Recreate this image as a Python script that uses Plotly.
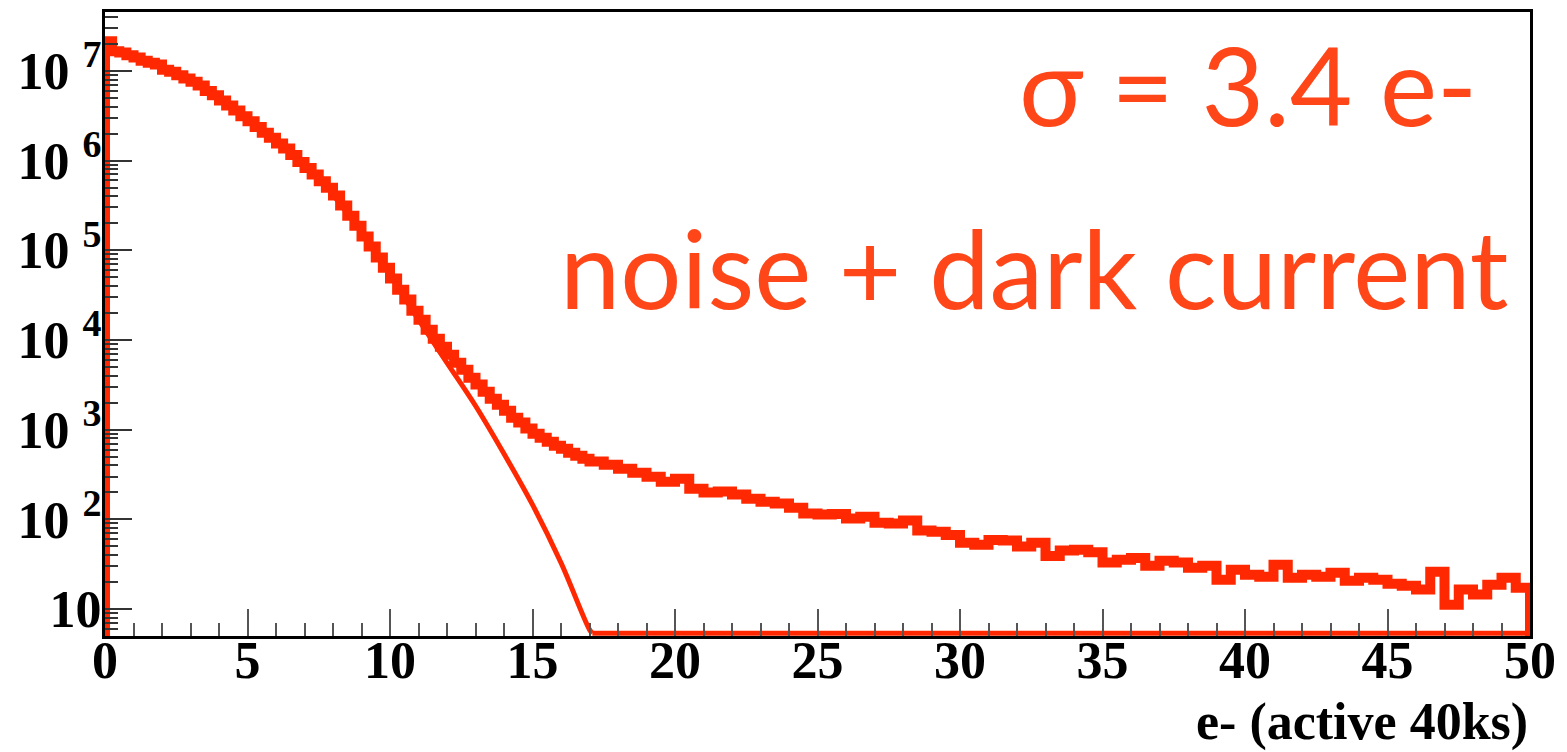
import numpy as np
import plotly.graph_objects as go

# ---------------- data ----------------
# histogram: 0.25-wide bins from 0 to 17, then 0.5-wide bins from 17 to 50
fine_edges = list(np.arange(0.0, 17.0, 0.25))
coarse_edges = list(np.arange(17.0, 50.0, 0.5))
bin_left_edges = fine_edges + coarse_edges
x_max = 50.0

counts_fine = [
    2.14e7, 1.65e7, 1.60e7, 1.49e7, 1.41e7, 1.30e7, 1.23e7, 1.18e7,
    1.03e7, 9.75e6, 8.93e6, 8.20e6, 7.54e6, 6.85e6, 5.98e6, 5.35e6,
    4.67e6, 4.10e6, 3.61e6, 3.12e6, 2.74e6, 2.37e6, 2.04e6, 1.79e6,
    1.55e6, 1.36e6, 1.15e6, 9.66e5, 8.28e5, 6.98e5, 5.87e5, 4.96e5,
    4.07e5, 3.15e5, 2.43e5, 1.88e5, 1.42e5, 1.10e5, 8.28e4, 6.40e4,
    4.83e4, 3.64e4, 2.82e4, 2.12e4, 1.68e4, 1.30e4, 1.03e4, 8.42e3,
    6.86e3, 5.58e3, 4.67e3, 3.80e3, 3.18e3, 2.65e3, 2.21e3, 1.90e3,
    1.63e3, 1.36e3, 1.20e3, 1.03e3, 902, 814, 735, 663,
    614, 554, 513, 475,
]
counts_coarse = [
    441, 407, 367, 331, 299, 263, 284, 220, 199, 204,
    189, 170, 157, 150, 135, 116, 113, 115, 102, 107,
    92, 90, 97, 75, 73, 67, 55, 52, 59, 58,
    50, 55, 39, 45, 46, 43, 33, 35.5, 37, 30.5,
    34.6, 33, 28.9, 30.5, 21.3, 27.5, 24.2, 23, 31.3, 22.4,
    24.2, 23, 25.4, 20.7, 22.4, 21.3, 19.2, 18.2, 16.5, 26.1,
    11.2, 16.5, 14.5, 18.7, 22.4, 17.3,
]
counts = counts_fine + counts_coarse

# fitted gaussian
fit_x = [8, 9, 10, 11, 12, 13, 14, 15, 16, 17]
fit_y = [4.15e5, 1.57e5, 5.35e4, 1.68e4, 5.57e3, 1.85e3, 539, 146, 32.8, 5.9]

y_log_range = [0.70, 7.656]
y_floor = 10 ** y_log_range[0]
# ROOT draws the fit clamped at the frame minimum (line sits on the axis)
fit_floor = 10 ** (y_log_range[0] + 0.03)

ytick_vals = [10, 1e2, 1e3, 1e4, 1e5, 1e6, 1e7]
ytick_exps = ["", "2", "3", "4", "5", "6", "7"]
ytick_text = ["10" + (" <sup><span style='font-size:38px'>%s</span></sup>" % e if e else "")
              for e in ytick_exps]

RED = "rgb(255,40,0)"
TXT_RED = "rgb(255,70,25)"

# ---------------- figure ----------------
hx = [bin_left_edges[0]] + bin_left_edges + [x_max]
hy = [y_floor] + counts + [y_floor]

fig = go.Figure()
fig.add_trace(go.Scatter(x=hx, y=hy, mode="lines", line=dict(color=RED, width=10, shape="hv"),
                         showlegend=False, hoverinfo="skip"))
fx = fit_x + [fit_x[-1] + 0.1]
fy = fit_y + [fit_floor]
fig.add_trace(go.Scatter(x=fx, y=fy, mode="lines", line=dict(color=RED, width=5, shape="spline"),
                         showlegend=False, hoverinfo="skip"))
fig.add_trace(go.Scatter(x=[fx[-1], x_max], y=[fit_floor, fit_floor], mode="lines",
                         line=dict(color=RED, width=5), showlegend=False, hoverinfo="skip"))

serif = "Liberation Serif"
fig.update_layout(
    width=1567, height=752,
    margin=dict(l=105, r=37, t=12, b=116, autoexpand=False),
    paper_bgcolor="white", plot_bgcolor="white",
    xaxis=dict(range=[0, 50], showgrid=False, zeroline=False, automargin=False,
               showline=True, linecolor="black", linewidth=3, mirror=True,
               ticks="inside", ticklen=27, tickwidth=2, tickcolor="#555",
               dtick=5, tick0=0, ticklabelstandoff=-23,
               minor=dict(ticks="inside", ticklen=13, tickwidth=2, tickcolor="#555", dtick=1),
               tickfont=dict(family=serif, size=52, color="black", weight="bold")),
    yaxis=dict(type="log", range=y_log_range, showgrid=False, zeroline=False, automargin=False,
               showline=True, linecolor="black", linewidth=3, mirror=True,
               ticks="inside", ticklen=27, tickwidth=2, tickcolor="#333",
               tickmode="array", tickvals=ytick_vals, ticktext=ytick_text,
               minor=dict(ticks="inside", ticklen=13, tickwidth=2, tickcolor="#333", dtick="D1"),
               ticklabelstandoff=-10,
               tickfont=dict(family=serif, size=52, color="black", weight="bold")),
    annotations=[
        dict(text="e- (active 40ks)", xref="paper", yref="paper", x=1.0, y=-0.138,
             xanchor="right", yanchor="middle", showarrow=False,
             font=dict(family=serif, size=52, color="black", weight="bold")),
        dict(text="σ = 3.4 e-", xref="paper", yref="paper", x=0.964, y=0.885,
             xanchor="right", yanchor="middle", showarrow=False,
             font=dict(family="Lato", size=108, color=TXT_RED)),
        dict(text="noise + dark current", xref="paper", yref="paper", x=0.987, y=0.591,
             xanchor="right", yanchor="middle", showarrow=False,
             font=dict(family="Lato", size=108, color=TXT_RED)),
    ],
)

fig.write_html("out.html", config={"displayModeBar": False},
               post_script="document.body.style.margin='0px';")
